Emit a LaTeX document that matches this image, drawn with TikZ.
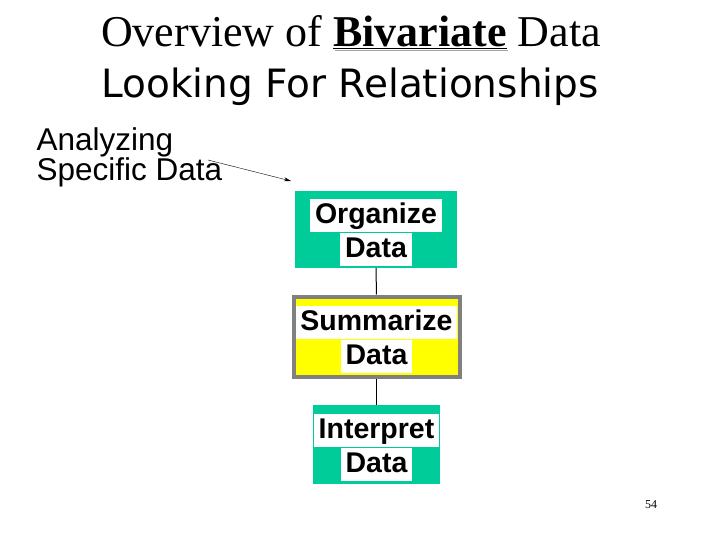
\documentclass[tikz,border=0pt]{standalone}
\usepackage{fontspec}
\setmainfont{Liberation Serif}
\setsansfont{Liberation Sans}
\newfontfamily\tahomalike{DejaVu Sans}
\usetikzlibrary{arrows.meta}
\definecolor{stepgreen}{RGB}{0,204,153}
\definecolor{stepyellow}{RGB}{255,255,0}
\definecolor{stepborder}{RGB}{128,128,128}
\newcommand{\whitebg}[1]{{\setlength{\fboxsep}{0pt}\colorbox{white}{\rule[-0.3em]{0pt}{1.15em}\,#1\,}}}
\newcommand{\shadowword}[1]{\makebox[0pt][l]{\hspace{1.5pt}\raisebox{-1.5pt}{\textcolor{gray!70}{\underline{\phantom{#1}}}}}\underline{#1}}

\begin{document}
\begin{tikzpicture}[x=1pt, y=-1pt,
  stepbox/.style={fill=stepgreen, inner sep=0pt, align=center, text depth=2pt,
    font=\sffamily\bfseries\fontsize{28.5}{34}\selectfont},
  link/.style={line width=1pt, black}]
  \useasboundingbox (0,0) rectangle (720,540);
  % title
  \node[font=\fontsize{44}{48}\selectfont] (title) at (351,33)
    {Overview of \textbf{\shadowword{Bivariate}} Data};
  \node[font=\tahomalike\fontsize{39}{42}\selectfont] (subtitle) at (350,87)
    {Looking For Relationships};
  % label and arrow
  \node[font=\sffamily\fontsize{31.5}{29}\selectfont, align=left, anchor=north west]
    (label) at (33,124) {Analyzing\\Specific Data};
  \coordinate (arrowtail) at (208,160);
  \coordinate (arrowtip) at (291,181);
  \draw[-{Stealth[length=7pt, width=4pt]}, thin] (arrowtail) -- (arrowtip);
  % boxes
  \node[stepbox, minimum width=162pt, minimum height=77pt] (organize) at (376,229.5)
    {\whitebg{Organize}\\\whitebg{Data}};
  \node[stepbox, fill=stepyellow, draw=stepborder, line width=4pt,
    minimum width=166pt, minimum height=80pt] (summarize) at (376.5,336.5)
    {\whitebg{Summarize}\\\whitebg{Data}};
  \node[stepbox, minimum width=127pt, minimum height=79pt] (interpret) at (376.5,444.5)
    {\whitebg{Interpret}\\\whitebg{Data}};
  % links
  \draw[link] (organize) -- (summarize);
  \draw[link] (summarize) -- (interpret);
  % page number
  \node[font=\fontsize{12}{12}\selectfont] (pagenum) at (651,505) {54};
\end{tikzpicture}
\end{document}
